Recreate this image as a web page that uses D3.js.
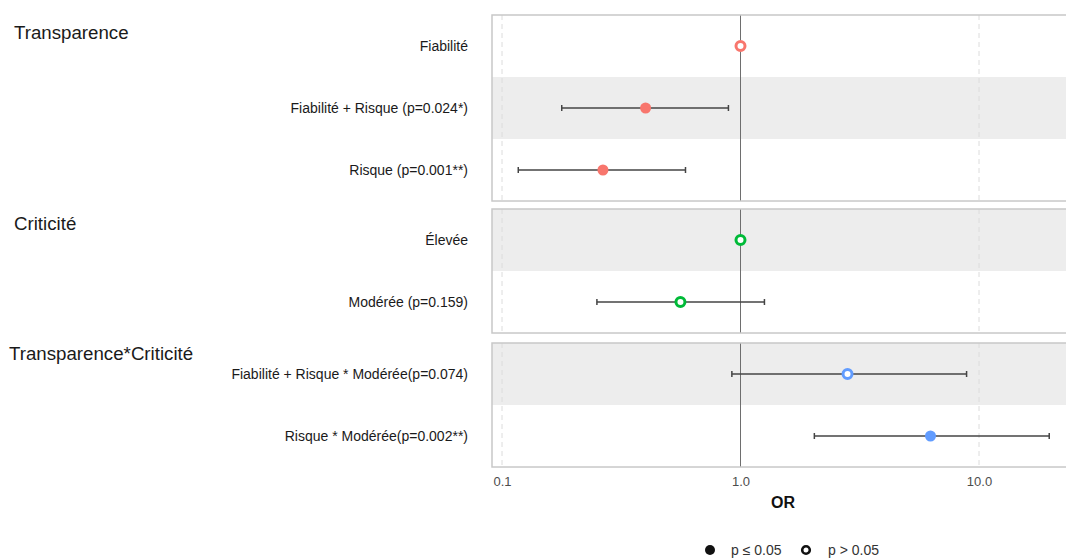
<!DOCTYPE html>
<html>
<head>
<meta charset="utf-8">
<script src="https://cdn.jsdelivr.net/npm/d3@7"></script>
<style>
  body { margin: 0; background: #fff; }
  svg { font-family: "Liberation Sans", Arial, sans-serif; }
</style>
</head>
<body>
<svg id="chart" width="1066" height="560"></svg>
<script>
// data
var groups = ["Transparence", "Criticité", "Transparence*Criticité"];
var groupOf = [0, 0, 0, 1, 1, 2, 2];
var labels = [
  "Fiabilité",
  "Fiabilité + Risque (p=0.024*)",
  "Risque (p=0.001**)",
  "Élevée",
  "Modérée (p=0.159)",
  "Fiabilité + Risque * Modérée(p=0.074)",
  "Risque * Modérée(p=0.002**)"
];
var orValues = [1, 0.40, 0.265, 1, 0.56, 2.81, 6.26];
var ciLow = [null, 0.178, 0.117, null, 0.25, 0.92, 2.04];
var ciHigh = [null, 0.89, 0.588, null, 1.26, 8.87, 19.7];
var significant = [false, true, true, false, false, false, true];
var xTicks = [0.1, 1, 10];
var colors = ["#F8766D", "#00BA38", "#619CFF"];

var svg = d3.select("#chart");

var left = 492, right = 1074;
var panels = [
  {top: 15, bottom: 201, titleY: 39, titleX: 14},
  {top: 209, bottom: 333, titleY: 230, titleX: 14},
  {top: 343, bottom: 467, titleY: 360, titleX: 9}
];

var xScale = d3.scaleLog()
    .domain([0.1, 10])
    .range([502, 979]);

var rows = labels.map(function(l, i) {
  return {label: l, g: groupOf[i], or: orValues[i], lo: ciLow[i], hi: ciHigh[i], sig: significant[i], idx: i};
});

panels.forEach(function(p, gi) {
  var data = rows.filter(function(d) { return d.g === gi; });
  var yScale = d3.scaleBand()
      .domain(data.map(function(d) { return d.label; }))
      .range([p.top, p.bottom]);
  var cy = function(d) { return yScale(d.label) + yScale.bandwidth() / 2; };

  var g = svg.append("g");

  // alternating stripes
  g.selectAll(".stripe")
    .data(data.filter(function(d) { return d.idx % 2 === 1; }))
    .enter().append("rect")
    .attr("x", left)
    .attr("y", function(d) { return yScale(d.label); })
    .attr("width", right - left)
    .attr("height", yScale.bandwidth())
    .attr("fill", "#ededed");

  // dashed grid at 0.1 and 10
  g.selectAll(".grid")
    .data([0.1, 10])
    .enter().append("line")
    .attr("x1", function(d) { return xScale(d); })
    .attr("x2", function(d) { return xScale(d); })
    .attr("y1", p.top)
    .attr("y2", p.bottom)
    .attr("stroke", "#dcdcdc")
    .attr("stroke-dasharray", "5,4");

  // reference line
  g.append("line")
    .attr("x1", xScale(1)).attr("x2", xScale(1))
    .attr("y1", p.top).attr("y2", p.bottom)
    .attr("stroke", "#6e6e6e")
    .attr("stroke-width", 1);

  // panel frame
  g.append("rect")
    .attr("x", left)
    .attr("y", p.top)
    .attr("width", right - left)
    .attr("height", p.bottom - p.top)
    .attr("fill", "none")
    .attr("stroke", "#c8c8c8")
    .attr("stroke-width", 1.5);

  // group title
  svg.append("text")
    .attr("x", p.titleX)
    .attr("y", p.titleY)
    .attr("font-size", "18.7px")
    .attr("fill", "#1a1a1a")
    .text(groups[gi]);

  // row labels
  g.selectAll(".lab")
    .data(data)
    .enter().append("text")
    .attr("x", 468)
    .attr("y", cy)
    .attr("dy", "0.35em")
    .attr("text-anchor", "end")
    .attr("font-size", "14px")
    .attr("fill", "#1a1a1a")
    .text(function(d) { return d.label; });

  var ci = data.filter(function(d) { return d.lo !== null; });

  g.selectAll(".ci")
    .data(ci)
    .enter().append("line")
    .attr("x1", function(d) { return xScale(d.lo); })
    .attr("x2", function(d) { return xScale(d.hi); })
    .attr("y1", cy).attr("y2", cy)
    .attr("stroke", "#444")
    .attr("stroke-width", 1.5);

  ["lo", "hi"].forEach(function(k) {
    g.selectAll(".cap-" + k)
      .data(ci)
      .enter().append("line")
      .attr("x1", function(d) { return xScale(d[k]); })
      .attr("x2", function(d) { return xScale(d[k]); })
      .attr("y1", function(d) { return cy(d) - 3; })
      .attr("y2", function(d) { return cy(d) + 3; })
      .attr("stroke", "#444")
      .attr("stroke-width", 1.5);
  });

  g.selectAll(".pt")
    .data(data)
    .enter().append("circle")
    .attr("cx", function(d) { return xScale(d.or); })
    .attr("cy", cy)
    .attr("r", function(d) { return d.sig ? 5.5 : 4.5; })
    .attr("fill", function(d) { return d.sig ? colors[gi] : "#fff"; })
    .attr("stroke", colors[gi])
    .attr("stroke-width", function(d) { return d.sig ? 0 : 3; });
});

// x axis
var axis = svg.append("g")
    .attr("transform", "translate(0," + panels[2].bottom + ")")
    .call(d3.axisBottom(xScale).tickValues(xTicks).tickSize(0).tickPadding(10)
      .tickFormat(d3.format(".1f")));
axis.select(".domain").remove();
axis.selectAll("text")
    .attr("font-size", "13px")
    .attr("font-family", "Liberation Sans, Arial, sans-serif")
    .attr("fill", "#4d4d4d");

svg.append("text")
  .attr("x", (left + right) / 2)
  .attr("y", 508)
  .attr("text-anchor", "middle")
  .attr("font-size", "16px")
  .attr("font-weight", "bold")
  .attr("fill", "#111")
  .text("OR");

// legend
var legend = svg.append("g").attr("transform", "translate(0,550)");
legend.append("circle").attr("cx", 710).attr("cy", 0).attr("r", 5).attr("fill", "#111");
legend.append("text").attr("x", 731).attr("y", 0).attr("dy", "0.35em")
  .attr("font-size", "14px").attr("fill", "#333").text("p ≤ 0.05");
legend.append("circle").attr("cx", 806).attr("cy", 0).attr("r", 3.8)
  .attr("fill", "#fff").attr("stroke", "#111").attr("stroke-width", 2.6);
legend.append("text").attr("x", 828).attr("y", 0).attr("dy", "0.35em")
  .attr("font-size", "14px").attr("fill", "#333").text("p > 0.05");
</script>
</body>
</html>
